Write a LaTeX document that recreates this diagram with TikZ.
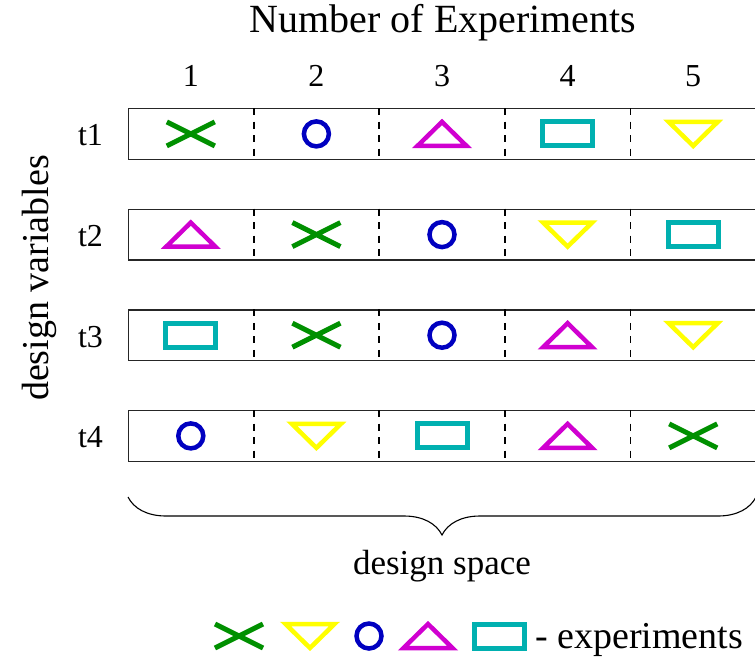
\documentclass[tikz,border=0pt]{standalone}
\usepackage{fontspec}
\setmainfont{Liberation Serif}
\usetikzlibrary{calc,decorations.pathreplacing}
\definecolor{cgreen}{HTML}{009000}
\definecolor{cblue}{HTML}{0000C0}
\definecolor{cmag}{HTML}{D000D0}
\definecolor{ccyan}{HTML}{00B0B0}
\definecolor{cyel}{HTML}{FFFF00}
\tikzset{
  rowbox/.style={draw=black!85, line width=1.3pt, minimum width=628pt, minimum height=50.5pt, inner sep=0pt, anchor=north west},
  sep/.style={line width=1.8pt, dash pattern=on 7pt off 6.5pt},
  lab/.style={font=\fontsize{32}{38}\selectfont, inner sep=0pt, anchor=base},
  xmk/.pic={\draw[line width=5pt,cgreen] (-24,-12)--(24,12) (-24,12)--(24,-12);},
  omk/.pic={\draw[line width=4.5pt,cblue] (0,0) circle[radius=12.5pt];},
  upmk/.pic={\draw[line width=4.5pt,cmag,line join=miter] (-24.5,12)--(24.5,12)--(0,-12)--cycle;},
  dnmk/.pic={\draw[line width=4.5pt,cyel,line join=miter] (-24.5,-12)--(24.5,-12)--(0,12)--cycle;},
  rmk/.pic={\draw[line width=5pt,ccyan] (-25,-12) rectangle (25,12);}
}
\begin{document}
\begin{tikzpicture}[x=1pt,y=-1pt]
\useasboundingbox (0,0) rectangle (755,659);
% title and column numbers
\node[lab, font=\fontsize{40}{48}\selectfont] (title) at (443,32) {Number of Experiments};
\node[lab] (n1) at (190.8,86) {1};
\node[lab] (n2) at (316.4,86) {2};
\node[lab] (n3) at (442,86) {3};
\node[lab] (n4) at (567.6,86) {4};
\node[lab] (n5) at (693.2,86) {5};
% rows
\node[rowbox] (r1) at (128,108) {};
\node[rowbox] (r2) at (128,208.7) {};
\node[rowbox] (r3) at (128,309.3) {};
\node[rowbox] (r4) at (128,410) {};
\foreach \r in {1,2,3,4} {
  \foreach \k in {1,2,3,4}
    \draw[sep] ($(r\r.north west)+(125.6*\k,0)$) -- ($(r\r.south west)+(125.6*\k,0)$);
  \foreach \c in {1,...,5}
    \coordinate (c\r\c) at ($(r\r.west)+(125.6*\c-62.8,0)$);
  \node[lab] (t\r) at ($(r\r.west)+(-37.5,12)$) {t\r};
}
% row 1
\pic at (c11) {xmk}; \pic at (c12) {omk}; \pic at (c13) {upmk}; \pic at (c14) {rmk}; \pic at (c15) {dnmk};
% row 2
\pic at (c21) {upmk}; \pic at (c22) {xmk}; \pic at (c23) {omk}; \pic at (c24) {dnmk}; \pic at (c25) {rmk};
% row 3
\pic at (c31) {rmk}; \pic at (c32) {xmk}; \pic at (c33) {omk}; \pic at (c34) {upmk}; \pic at (c35) {dnmk};
% row 4
\pic at (c41) {omk}; \pic at (c42) {dnmk}; \pic at (c43) {rmk}; \pic at (c44) {upmk}; \pic at (c45) {xmk};
% axis label
\node[lab, font=\fontsize{38}{45}\selectfont, rotate=90] (dv) at (48,278) {design variables};
% brace
\coordinate (bl) at (128,497);
\coordinate (br) at (756,497);
\draw[decorate, decoration={brace, mirror, amplitude=38pt}, line width=1.1pt] (bl) -- (br);
\node[lab, font=\fontsize{35}{42}\selectfont] (ds) at (442,574) {design space};
% legend
\pic at (239,636) {xmk};
\pic at (310,636) {dnmk};
\pic at (369,636) {omk};
\pic at (428,636) {upmk};
\pic at (499,636) {rmk};
\node[lab, font=\fontsize{38}{45}\selectfont, anchor=base west] (leg) at (535,648) {- experiments};
\end{tikzpicture}
\end{document}
